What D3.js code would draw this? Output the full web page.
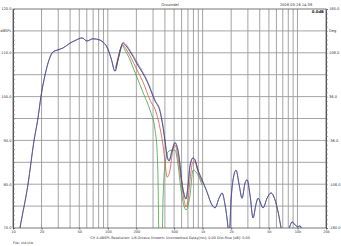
<!DOCTYPE html>
<html lang="en">
<head>
<meta charset="UTF-8">
<title>CLIO response</title>
<script src="https://cdn.jsdelivr.net/npm/d3@7"></script>
<style>
  body { margin: 0; background: #fff; }
  svg { display: block; font-family: "DejaVu Sans", sans-serif; }
</style>
</head>
<body>
<script>
// frequency ticks (Hz) and their labels
const xTickValues = [10, 20, 50, 100, 200, 500, 1000, 2000, 5000, 10000, 20000]
const xTickLabels = ['10', '20', '50', '100', '200', '500', '1k', '2k', '5k', '10k', '20k']
const leftLabels = ['120.0', 'dBSPL', '110.0', '', '100.0', '', '90.0', '', '80.0', '', '70.0']
const rightLabels = ['180.0', 'Deg', '108.0', '', '36.0', '', '-36.0', '', '-108.0', '', '-180.0']

// black curve (dBSPL)
const blackFreq = [10, 11.85, 14.4, 16.65, 18.35, 19.74, 21.76, 24, 26.4, 29.1, 33.7, 39.9, 46.2, 53.4, 60.3, 69.8, 82.8, 91.2, 98.1, 108.1, 119.1, 128.1, 137.8, 144.7, 155.6, 171.5, 203.2, 259.1, 314.7, 355.3, 382.2, 401.2, 421.2, 442.1, 475.6, 511.7, 550.3, 621.3, 668.3, 701.5, 736.5, 792.1, 831.6, 894.4, 985.6, 1112.8, 1226, 1351, 1489, 1602, 1723, 1853, 1899, 1994, 2093, 2251, 2421, 2604, 2802, 2941, 3162, 3401, 3659, 3841, 4337, 4778, 5266, 5802, 6243, 6881, 7581, 8353, 8770, 9434, 10146, 10652, 11456, 20000]
const blackDb = [60, 70.0, 80.0, 89.9, 95.1, 100.1, 104.9, 108.4, 110.2, 110.6, 111.1, 112.2, 112.9, 113.4, 112.7, 113.2, 112.9, 112.2, 111.3, 108.8, 105.8, 108.4, 111.3, 112.2, 111.6, 110.3, 107.5, 103.5, 99.0, 96.6, 93.0, 89.8, 86.4, 85.3, 87.6, 89.4, 87.6, 78.8, 76.6, 79.6, 84.2, 86.0, 85.5, 83.2, 81.0, 78.2, 75.7, 74.6, 76.8, 78.0, 75.3, 70.0, 67.3, 76.4, 81.0, 83.2, 80.0, 76.8, 80.3, 81.0, 77.5, 72.3, 75.5, 76.8, 74.6, 76.8, 78.0, 76.4, 73.7, 69.1, 67.3, 70.5, 71.4, 70.7, 70.3, 70.5, 68.4, 60]

// blue curve
const blueFreq = [10, 11.85, 14.4, 16.65, 18.35, 19.74, 21.76, 24, 26.4, 29.1, 33.7, 39.9, 46.2, 53.4, 60.3, 69.8, 82.8, 91.2, 98.1, 108.1, 119.1, 128.1, 137.8, 144.7, 155.6, 171.5, 203.2, 259.1, 314.7, 355.3, 382.2, 401.2, 421.2, 442.1, 475.6, 511.7, 550.3, 621.3, 668.3, 701.5, 736.5, 792.1, 831.6, 894.4, 985.6, 1112.8, 1226, 1351, 1489, 1602, 1723, 1853, 1899, 1994, 2093, 2251, 2421, 2604, 2802, 2941, 3162, 3401, 3659, 3841, 4337, 4778, 5266, 5802, 6243, 6881, 7581, 8353, 8770, 9434, 10146, 10652, 11456, 20000]
const blueDb = [60, 70.0, 80.0, 89.9, 95.1, 100.1, 104.9, 108.4, 110.2, 110.6, 111.1, 112.2, 112.9, 113.4, 112.7, 113.2, 112.9, 112.2, 111.3, 108.8, 105.8, 108.4, 111.3, 112.4, 111.9, 110.6, 107.9, 103.8, 99.2, 96.9, 93.4, 90.1, 86.7, 85.5, 87.8, 89.6, 87.8, 78.7, 76.8, 79.8, 84.4, 86.0, 85.5, 83.2, 81.0, 78.2, 75.7, 74.6, 76.8, 78.0, 75.3, 70.0, 67.3, 76.4, 81.0, 83.2, 80.0, 76.8, 80.3, 81.0, 77.5, 72.3, 75.5, 76.8, 74.6, 76.8, 78.0, 76.4, 73.7, 69.1, 67.3, 70.5, 71.4, 70.7, 70.3, 70.5, 68.4, 60]

// red curve
const redFreq = [121, 137.8, 144.7, 155.6, 171.5, 203.2, 235.1, 278.7, 322.4, 355.3, 382.2, 401.2, 421.2, 453.1, 475.6, 511.7, 550.3, 591.8, 636.6, 668.3, 701.5, 736.5, 792.1, 831.6, 894.4, 985.6]
const redDb = [106.5, 111.2, 111.8, 110.9, 109.3, 106.1, 103.3, 99.2, 96.5, 92.8, 88.9, 85.1, 81.6, 83.2, 86.7, 88.9, 86.0, 81.0, 76.4, 74.8, 76.4, 81.0, 85.1, 85.1, 82.7, 80.5]

// green curve
const greenFreq = [121, 137.8, 141.2, 151.9, 171.5, 188.9, 208.3, 240.9, 278.7, 314.7, 330.4, 338.5, 346.8, 373.1, 382.2, 401.2, 431.5, 475.6, 511.7, 550.3, 591.8, 668.3, 736.5, 792.1, 894.4, 985.6]
const greenDb = [106.5, 111.0, 111.8, 110.6, 108.4, 106.1, 103.8, 100.4, 96.9, 92.4, 87.8, 81.0, 67.3, 67.3, 76.4, 84.4, 87.4, 87.8, 87.8, 84.4, 78.7, 74.1, 77.5, 83.2, 82.1, 79.8]

const width = 341
const height = 246
const margin = { top: 9, right: 15, bottom: 18, left: 13 }

const svg = d3.select('body').append('svg')
  .attr('width', width)
  .attr('height', height)

const xScale = d3.scaleLog()
  .domain([10, 20000])
  .range([margin.left, width - margin.right])

const yScale = d3.scaleLinear()
  .domain([70, 120])
  .range([height - margin.bottom, margin.top])

const phaseScale = d3.scaleLinear()
  .domain([-180, 180])
  .range([height - margin.bottom, margin.top])

// vertical grid: 1-2-3..9 per decade
const gridFreq = []
for (let dec = 10; dec < 20000; dec *= 10) {
  for (let m = 1; m < 10; m++) {
    const f = dec * m
    if (f > 10 && f < 20000) gridFreq.push(f)
  }
}
svg.append('g')
  .selectAll('line')
  .data(gridFreq)
  .join('line')
  .attr('x1', d => xScale(d)).attr('x2', d => xScale(d))
  .attr('y1', margin.top).attr('y2', height - margin.bottom)
  .attr('stroke', '#9a9a9a')
  .attr('stroke-width', 0.9)

// horizontal grid every 5 dB
const dbGrid = d3.range(75, 120, 5)
svg.append('g')
  .selectAll('line')
  .data(dbGrid)
  .join('line')
  .attr('x1', margin.left).attr('x2', width - margin.right)
  .attr('y1', d => yScale(d)).attr('y2', d => yScale(d))
  .attr('stroke', '#9a9a9a')
  .attr('stroke-width', 0.9)

// frame
svg.append('rect')
  .attr('x', margin.left).attr('y', margin.top)
  .attr('width', width - margin.left - margin.right)
  .attr('height', height - margin.top - margin.bottom)
  .attr('fill', 'none')
  .attr('stroke', '#555')
  .attr('stroke-width', 0.8)

// left axis with 1 dB minor ticks pointing inward
const yAxis = d3.axisRight(yScale)
  .tickValues(d3.range(70, 121, 1))
  .tickSize(2)
  .tickFormat('')
svg.append('g')
  .attr('transform', `translate(${margin.left}, 0)`)
  .call(yAxis)
  .call(g => g.select('.domain').attr('stroke', '#555'))
  .call(g => g.selectAll('.tick line').attr('stroke', '#777').attr('stroke-width', 0.6))

// right axis (phase) with minor ticks outward
const pAxis = d3.axisRight(phaseScale)
  .tickValues(d3.range(-180, 181, 7.2))
  .tickSize(2)
  .tickFormat('')
svg.append('g')
  .attr('transform', `translate(${width - margin.right}, 0)`)
  .call(pAxis)
  .call(g => g.select('.domain').attr('stroke', '#555'))
  .call(g => g.selectAll('.tick line').attr('stroke', '#777').attr('stroke-width', 0.6))

// y labels
svg.append('g')
  .selectAll('text')
  .data(leftLabels)
  .join('text')
  .attr('x', margin.left - 1.5)
  .attr('y', (d, i) => yScale(120 - i * 5) + 1.3)
  .attr('text-anchor', 'end')
  .attr('font-size', 3.6)
  .attr('fill', '#333')
  .text(d => d)

svg.append('g')
  .selectAll('text')
  .data(rightLabels)
  .join('text')
  .attr('x', width - margin.right + 3)
  .attr('y', (d, i) => yScale(120 - i * 5) + 1.3)
  .attr('text-anchor', 'start')
  .attr('font-size', 3.6)
  .attr('fill', '#333')
  .text(d => d)

// x axis labels
const xAxis = d3.axisBottom(xScale)
  .tickValues(xTickValues)
  .tickSize(1.5)
  .tickPadding(1)
  .tickFormat((d, i) => xTickLabels[i])
svg.append('g')
  .attr('transform', `translate(0, ${height - margin.bottom})`)
  .call(xAxis)
  .call(g => g.select('.domain').remove())
  .call(g => g.selectAll('.tick line').attr('stroke', '#555'))
  .call(g => g.selectAll('.tick text').attr('font-size', 3.6).attr('fill', '#333').attr('font-family', '"DejaVu Sans", sans-serif'))

// curves
svg.append('clipPath').attr('id', 'plot-clip')
  .append('rect')
  .attr('x', margin.left).attr('y', margin.top)
  .attr('width', width - margin.left - margin.right)
  .attr('height', height - margin.top - margin.bottom)

const line = d3.line()
  .x(d => xScale(d[0]))
  .y(d => yScale(d[1]))
  .curve(d3.curveMonotoneX)

const series = [
  { f: greenFreq, v: greenDb, color: '#3fa33f', op: 1 },
  { f: redFreq, v: redDb, color: '#d9534a', op: 1 },
  { f: blackFreq, v: blackDb, color: '#2a2a3a', op: 1 },
  { f: blueFreq, v: blueDb, color: '#5a5ad6', op: 0.7 }
]

const curves = svg.append('g').attr('clip-path', 'url(#plot-clip)')
series.forEach(s => {
  curves.append('path')
    .datum(s.f.map((f, i) => [f, s.v[i]]))
    .attr('d', line)
    .attr('fill', 'none')
    .attr('stroke', s.color)
    .attr('stroke-width', 0.8)
    .attr('stroke-opacity', s.op)
})

// texts
svg.append('text')
  .attr('x', 170).attr('y', 5.5)
  .attr('text-anchor', 'middle')
  .attr('font-size', 3.6)
  .attr('fill', '#333')
  .text('Grouindel')

svg.append('text')
  .attr('x', 296).attr('y', 5.5)
  .attr('text-anchor', 'middle')
  .attr('font-size', 3.6)
  .attr('fill', '#333')
  .text('2008-03-26 14:38')

svg.append('text')
  .attr('x', width - margin.right - 2).attr('y', 13)
  .attr('text-anchor', 'end')
  .attr('font-size', 3.8)
  .attr('font-weight', 'bold')
  .attr('fill', '#222')
  .text('0.0dB')

svg.append('text')
  .attr('x', 170).attr('y', 238.5)
  .attr('text-anchor', 'middle')
  .attr('font-size', 3.4)
  .attr('fill', '#333')
  .text('CH A   dBSPL   Resolution: 1/6 Octave   Smooth: Unsmoothed   Delay[ms]: 0.00   Dist.Rise [dB]: 0.00')

svg.append('text')
  .attr('x', 13).attr('y', 243.5)
  .attr('font-size', 3.4)
  .attr('fill', '#333')
  .text('File: ind.clio')
</script>
</body>
</html>
